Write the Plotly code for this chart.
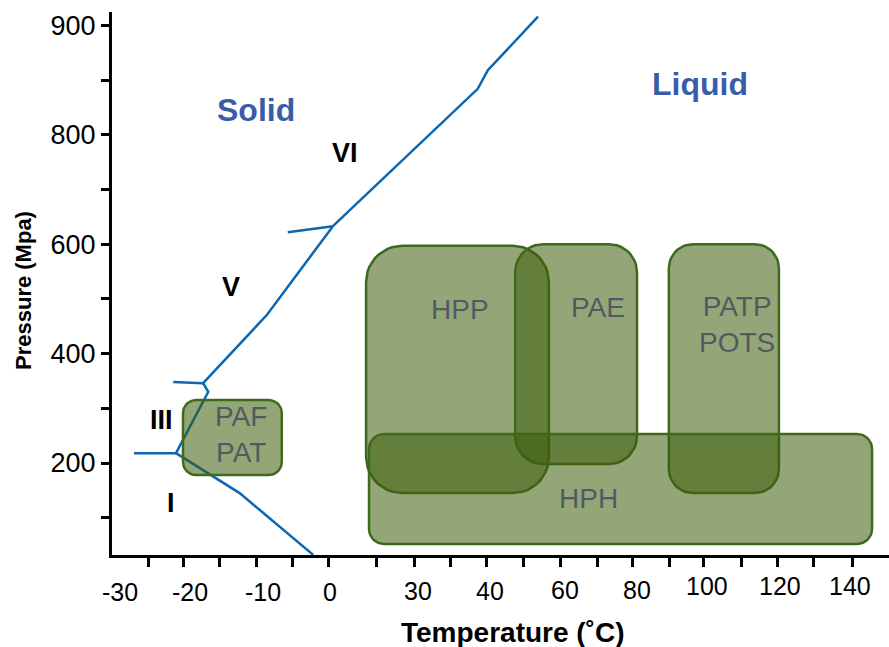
import numpy as np
import plotly.graph_objects as go

# ---------------- data ----------------
# x-axis tick labels (°C) and the position of each label on the (non-linear) drawing scale
TEMP_LABELS = [-30, -20, -10, 0, 30, 40, 60, 80, 100, 120, 140]
TEMP_LABEL_POS = [8, 78, 151, 218, 306, 378, 453, 525, 595, 668, 738]
# minor/major tick marks along the temperature axis (drawing-scale positions)
TEMP_TICK_POS = [36, 71, 107, 144, 180, 216, 264, 302, 338, 374, 411, 448,
                 485, 520, 557, 591, 629, 665, 701, 740]

# pressure axis (MPa); the scale is stretched above 800 MPa
PRESSURE_TICKS = [100, 200, 300, 400, 500, 600, 700, 800, 850, 900]
PRESSURE_TICK_TEXT = ["", "200", "", "400", "", "600", "", "800", "", "900"]

# phase boundaries of water (T in °C, P in MPa)
ice_I_liq_T = [-2.5, -13.2, -22.0]
ice_I_liq_P = [32, 145, 218]
ice_I_III_T = [-28.0, -22.0]
ice_I_III_P = [218, 218]
ice_III_liq_T = [-22.0, -17.5, -18.2]
ice_III_liq_P = [218, 330, 346]
ice_III_V_T = [-22.4, -18.2]
ice_III_V_P = [348, 346]
ice_V_liq_T = [-18.2, -9.4, 1.0]
ice_V_liq_P = [346, 471, 633]
ice_V_VI_T = [-6.3, 1.0]
ice_V_VI_P = [622, 633]
ice_VI_liq_T = [1.0, 38.3, 39.7, 52.8]
ice_VI_liq_P = [633, 842, 859, 908]

# processing windows
METHODS = ["PAF<br>PAT", "HPP", "PAE", "PATP<br>POTS", "HPH"]
T_MIN = [-21.0, 12.3, 46.7, 89.1, 13.3]
T_MAX = [-7.2, 55.7, 80.0, 119.7, 146.3]
P_MIN = [178, 145, 198, 145, 52]
P_MAX = [315, 597, 600, 600, 253]
LABEL_T = [-13.0, 35.8, 69.2, 108.2, 66.4]
LABEL_P = [252, 480, 485, 454, 136]

REGION_TEXT = ["Solid", "Liquid", "VI", "V", "III", "I"]
REGION_T = [-11.0, 98.0, 5.1, -14.4, -24.1, -22.7]
REGION_P = [823, 846, 767, 522, 279, 127]

# ---------------- scales ----------------
LP = np.array(TEMP_LABEL_POS, float)
LT = np.array(TEMP_LABELS, float)


def t2u(t):
    t = np.asarray(t, float)
    u = np.interp(t, LT, LP)
    lo_s = (LP[1] - LP[0]) / (LT[1] - LT[0])
    hi_s = (LP[-1] - LP[-2]) / (LT[-1] - LT[-2])
    u = np.where(t < LT[0], LP[0] + (t - LT[0]) * lo_s, u)
    u = np.where(t > LT[-1], LP[-1] + (t - LT[-1]) * hi_s, u)
    return u


def p2v(p):
    p = np.asarray(p, float)
    return np.where(p <= 800, p, 800 + 2 * (p - 800))


U_RANGE = [0, 777]
V_RANGE = [31.8, 1024.5]
PLOT_H = 543
PX_PER_V = PLOT_H / (V_RANGE[1] - V_RANGE[0])

fig = go.Figure()

BLUE = "#0b67b1"
for T, P in [(ice_I_liq_T, ice_I_liq_P), (ice_I_III_T, ice_I_III_P),
             (ice_III_liq_T, ice_III_liq_P), (ice_III_V_T, ice_III_V_P),
             (ice_V_liq_T, ice_V_liq_P), (ice_V_VI_T, ice_V_VI_P),
             (ice_VI_liq_T, ice_VI_liq_P)]:
    fig.add_trace(go.Scatter(x=t2u(T), y=p2v(P), mode="lines",
                             line=dict(color=BLUE, width=2.5),
                             hoverinfo="skip", showlegend=False))

RADII = [13, 36, 28, 24, 15]


def rounded(u0, u1, v0, v1, r):
    rv = r / PX_PER_V
    xs, ys = [], []
    for cu, cv, a0 in [(u1 - r, v1 - rv, 0), (u0 + r, v1 - rv, 90),
                       (u0 + r, v0 + rv, 180), (u1 - r, v0 + rv, 270)]:
        a = np.radians(np.linspace(a0, a0 + 90, 12))
        xs.extend(cu + r * np.cos(a))
        ys.extend(cv + rv * np.sin(a))
    xs.append(xs[0])
    ys.append(ys[0])
    return xs, ys


for i, name in enumerate(METHODS):
    u0, u1 = t2u([T_MIN[i], T_MAX[i]])
    v0, v1 = p2v([P_MIN[i], P_MAX[i]])
    xs, ys = rounded(u0, u1, v0, v1, RADII[i])
    fig.add_trace(go.Scatter(x=xs, y=ys, mode="lines", fill="toself",
                             fillcolor="rgba(60,92,10,0.55)",
                             line=dict(color="#3f6a1e", width=2.5),
                             hoverinfo="skip", showlegend=False))

FONT = "Liberation Sans, Arial, sans-serif"
ann = []
for i, name in enumerate(METHODS):
    ann.append(dict(x=float(t2u(LABEL_T[i])), y=float(p2v(LABEL_P[i])),
                    xref="x", yref="y", text=name, showarrow=False,
                    font=dict(family=FONT, size=28, color="#4f5b60")))

for i, name in enumerate(REGION_TEXT):
    if name in ("Solid", "Liquid"):
        f = dict(family=FONT, size=32, color="#3a5ca8")
    else:
        f = dict(family=FONT, size=27, color="black")
    ann.append(dict(x=float(t2u(REGION_T[i])), y=float(p2v(REGION_P[i])),
                    xref="x", yref="y", text=f"<b>{name}</b>", showarrow=False,
                    font=f))

LABEL_YSHIFT = [-37, -37, -37, -37, -36, -36, -35, -35, -31, -31, -31]
for t, u, ys in zip(TEMP_LABELS, TEMP_LABEL_POS, LABEL_YSHIFT):
    ann.append(dict(x=u, y=0, xref="x", yref="paper", yanchor="middle",
                    yshift=ys, text=str(t), showarrow=False,
                    font=dict(family=FONT, size=25, color="black")))

ann.append(dict(x=(513 - 112) / 777, y=0, xref="paper", yref="paper",
                yanchor="middle", yshift=-77, text="<b>Temperature (˚C)</b>",
                showarrow=False, font=dict(family=FONT, size=28, color="black")))
ann.append(dict(x=0, y=(555 - 291) / 543, xref="paper", yref="paper",
                xanchor="center", yanchor="middle", xshift=-89, textangle=-90,
                text="<b>Pressure (Mpa)</b>", showarrow=False,
                font=dict(family=FONT, size=22, color="black")))

fig.update_layout(
    width=889, height=647,
    margin=dict(l=112, r=0, t=12, b=92),
    paper_bgcolor="white", plot_bgcolor="white",
    annotations=ann,
    xaxis=dict(range=U_RANGE, showgrid=False, zeroline=False,
               showline=True, linecolor="black", linewidth=3,
               ticks="outside", ticklen=9, tickwidth=2.5, tickcolor="black",
               tickvals=TEMP_TICK_POS, ticktext=[""] * len(TEMP_TICK_POS),
               fixedrange=True),
    yaxis=dict(range=V_RANGE, showgrid=False, zeroline=False,
               showline=True, linecolor="black", linewidth=3,
               ticks="outside", ticklen=8, tickwidth=2.5, tickcolor="black",
               tickvals=[float(v) for v in p2v(PRESSURE_TICKS)],
               ticktext=PRESSURE_TICK_TEXT,
               tickfont=dict(family=FONT, size=27, color="black"),
               fixedrange=True),
)

fig.write_html("out.html")
